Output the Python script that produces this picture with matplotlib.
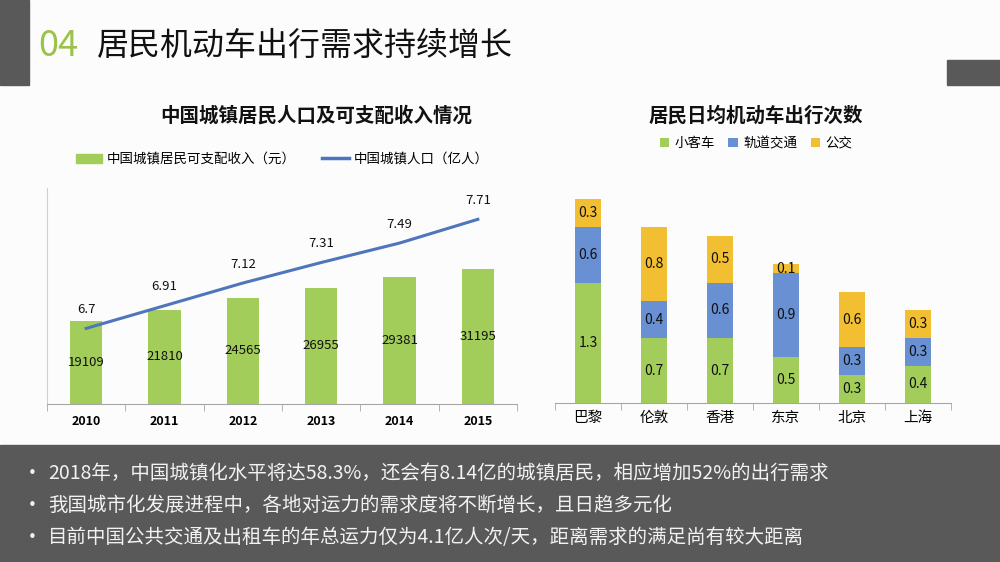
import matplotlib.pyplot as plt
from matplotlib.patches import Rectangle, Patch
from matplotlib.lines import Line2D

plt.rcParams["font.family"] = ["Noto Sans CJK SC", "DejaVu Sans"]

# data
years = ["2010", "2011", "2012", "2013", "2014", "2015"]
income = [19109, 21810, 24565, 26955, 29381, 31195]
population = [6.7, 6.91, 7.12, 7.31, 7.49, 7.71]

cities = ["巴黎", "伦敦", "香港", "东京", "北京", "上海"]
car = [1.3, 0.7, 0.7, 0.5, 0.3, 0.4]
rail = [0.6, 0.4, 0.6, 0.9, 0.3, 0.3]
bus = [0.3, 0.8, 0.5, 0.1, 0.6, 0.3]

bullets = [
    "2018年，中国城镇化水平将达58.3%，还会有8.14亿的城镇居民，相应增加52%的出行需求",
    "我国城市化发展进程中，各地对运力的需求度将不断增长，且日趋多元化",
    "目前中国公共交通及出租车的年总运力仅为4.1亿人次/天，距离需求的满足尚有较大距离",
]

GREEN = "#A2CD5A"
BLUE = "#6890D2"
YELLOW = "#F2BF32"
LINE = "#4F75BD"
DARK = "#595959"

W, H = 1000, 562
fig = plt.figure(figsize=(10, 5.62), dpi=100)
fig.patch.set_facecolor("#FCFCFC")


def px(x, y):
    return x / W, 1 - y / H


# header decorations
fig.patches.append(Rectangle((0, 1 - 85 / H), 29 / W, 85 / H, transform=fig.transFigure,
                             color=DARK, zorder=0))
fig.patches.append(Rectangle((947 / W, 1 - 85 / H), 53 / W, 25 / H, transform=fig.transFigure,
                             color=DARK, zorder=0))
fig.text(*px(38, 46), "04", color="#9BC24A", fontsize=26, va="center", ha="left")
fig.text(*px(97, 46), "居民机动车出行需求持续增长", color="#111111", fontsize=23,
         va="center", ha="left")

# bottom panel
fig.patches.append(Rectangle((0, 0), 1, (H - 445) / H, transform=fig.transFigure,
                             color=DARK, zorder=0))
for i, line in enumerate(bullets):
    yy = 473 + i * 32.5
    fig.text(*px(28, yy), "•", color="#F2F2F2", fontsize=11, va="center",
             family="DejaVu Sans")
    fig.text(*px(48, yy), line, color="#F2F2F2", fontsize=14, va="center")

# left chart
ax = fig.add_axes([47 / W, 1 - 404 / H, 470 / W, 216 / H])
ax.set_facecolor("none")
xs = range(len(years))
ax.bar(xs, income, width=0.41, color=GREEN, zorder=2)
for x, v in zip(xs, income):
    ax.text(x, v / 2, str(v), ha="center", va="center", fontsize=9.5,
            fontweight="medium", color="#111111")
ax.set_xlim(-0.5, 5.5)
ax.set_ylim(0, 50000)
ax.set_yticks([])
ax.set_xticks(xs)
ax.set_xticklabels(years, fontsize=9, fontweight="bold")
ax.tick_params(axis="x", length=0, pad=8)
ax.set_xticks([i - 0.5 for i in range(7)], minor=True)
ax.tick_params(axis="x", which="minor", length=5, color="#A6A6A6")
for s in ["top", "right"]:
    ax.spines[s].set_visible(False)
ax.spines["bottom"].set_color("#A6A6A6")
ax.spines["left"].set_color("#D0D0D0")

ax2 = ax.twinx()
ax2.plot(xs, population, color=LINE, lw=2.2, zorder=3)
for x, v in zip(xs, population):
    ax2.annotate(str(v), (x, v), xytext=(0, 9), textcoords="offset points",
                 ha="center", va="bottom", fontsize=9.5, fontweight="medium",
                 color="#111111")
ax2.set_ylim(6, 8)
ax2.set_yticks([])
for s in ax2.spines.values():
    s.set_visible(False)

fig.text(*px(316, 116), "中国城镇居民人口及可支配收入情况", fontsize=14, fontweight="bold",
         ha="center", va="center", color="#111111")
fig.legend(handles=[Patch(color=GREEN, label="中国城镇居民可支配收入（元）"),
                    Line2D([], [], color=LINE, lw=2.5, label="中国城镇人口（亿人）")],
           loc="center", bbox_to_anchor=px(282, 159), ncol=2, frameon=False,
           fontsize=9.7, handlelength=2.0, handleheight=0.7, columnspacing=2.0,
           handletextpad=0.3)

# right chart
bx = fig.add_axes([555 / W, 1 - 403 / H, 396 / W, 240 / H])
bx.set_facecolor("none")
xs = range(len(cities))
b0 = [0] * len(cities)
b1 = [c + r for c, r in zip(car, rail)]
for vals, base, col, lab in [(car, b0, GREEN, "小客车"), (rail, car, BLUE, "轨道交通"),
                             (bus, b1, YELLOW, "公交")]:
    bx.bar(xs, vals, bottom=base, width=0.4, color=col, label=lab, zorder=2)
    for x, v, b in zip(xs, vals, base):
        bx.text(x, b + v / 2, f"{v}", ha="center", va="center", fontsize=10,
                fontweight="medium", color="#111111")
bx.set_xlim(-0.5, 5.5)
bx.set_ylim(0, 240 / 92.6)
bx.set_yticks([])
bx.set_xticks(xs)
bx.set_xticklabels(cities, fontsize=10.5)
bx.tick_params(axis="x", length=0, pad=6)
bx.set_xticks([i - 0.5 for i in range(7)], minor=True)
bx.tick_params(axis="x", which="minor", length=5, color="#A6A6A6")
for s in ["top", "right", "left"]:
    bx.spines[s].set_visible(False)
bx.spines["bottom"].set_color("#A6A6A6")

fig.text(*px(756, 116), "居民日均机动车出行次数", fontsize=14, fontweight="bold",
         ha="center", va="center", color="#111111")
h, l = bx.get_legend_handles_labels()
fig.legend(h, l, loc="center", bbox_to_anchor=px(756, 143), ncol=3, frameon=False,
           fontsize=9.7, handlelength=0.7, handleheight=0.7, columnspacing=1.0,
           handletextpad=0.4)

fig.savefig("out.png", dpi=100, facecolor=fig.get_facecolor())
